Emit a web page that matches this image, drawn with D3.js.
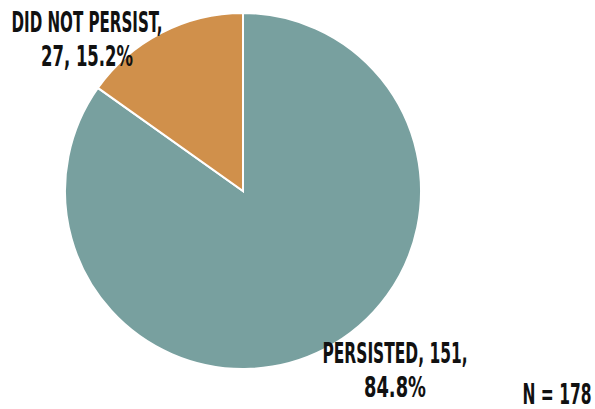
<!DOCTYPE html>
<html>
<head>
<meta charset="utf-8">
<script src="https://cdn.jsdelivr.net/npm/d3@7"></script>
<style>
  body { margin: 0; background: #fff; }
  #chart { width: 595px; height: 409px; }
  text { font-family: "DejaVu Sans Condensed", "Liberation Sans Narrow", sans-serif; font-weight: bold; fill: #111; }
</style>
</head>
<body>
<div id="chart"></div>
<script>

// data
const categories = ["Persisted", "Did not persist"];
const counts = [151, 27];
const colors = ["#78a09f", "#d0904b"];
const labelLines = [["PERSISTED, 151,", "84.8%"], ["DID NOT PERSIST,", "27, 15.2%"]];
const total = 178;

const width = 595, height = 409;

const svg = d3.select("#chart")
    .append("svg")
    .attr("width", width)
    .attr("height", height);

const cx = 243, cy = 191, radius = 178;

const pie = d3.pie().sort(null).value(function(d) { return d; });
const arc = d3.arc().innerRadius(0).outerRadius(radius);

const slices = pie(counts);

svg.append("g")
    .attr("transform", `translate(${cx},${cy})`)
    .selectAll("path")
    .data(slices)
    .enter()
    .append("path")
        .attr("d", arc)
        .attr("fill", function(d, i) { return colors[i]; })
        .attr("stroke", "#fff")
        .attr("stroke-width", 2);

// tall condensed lettering: squeeze to width, stretch a bit in height
function addLabel(t, x, y, len) {
    svg.append("text")
        .attr("transform", `translate(${x},${y}) scale(1,1.2)`)
        .attr("text-anchor", "middle")
        .attr("font-size", 23)
        .attr("textLength", len)
        .attr("lengthAdjust", "spacingAndGlyphs")
        .text(t);
}

const labelPos = [
    { x: 395, y: [363, 397], len: [145, 62] },
    { x: 87, y: [32, 66], len: [151, 92] }
];

labelLines.forEach(function(lines, i) {
    lines.forEach(function(t, j) {
        addLabel(t, labelPos[i].x, labelPos[i].y[j], labelPos[i].len[j]);
    });
});

addLabel("N = " + total, 557, 404, 69);

</script>
</body>
</html>
